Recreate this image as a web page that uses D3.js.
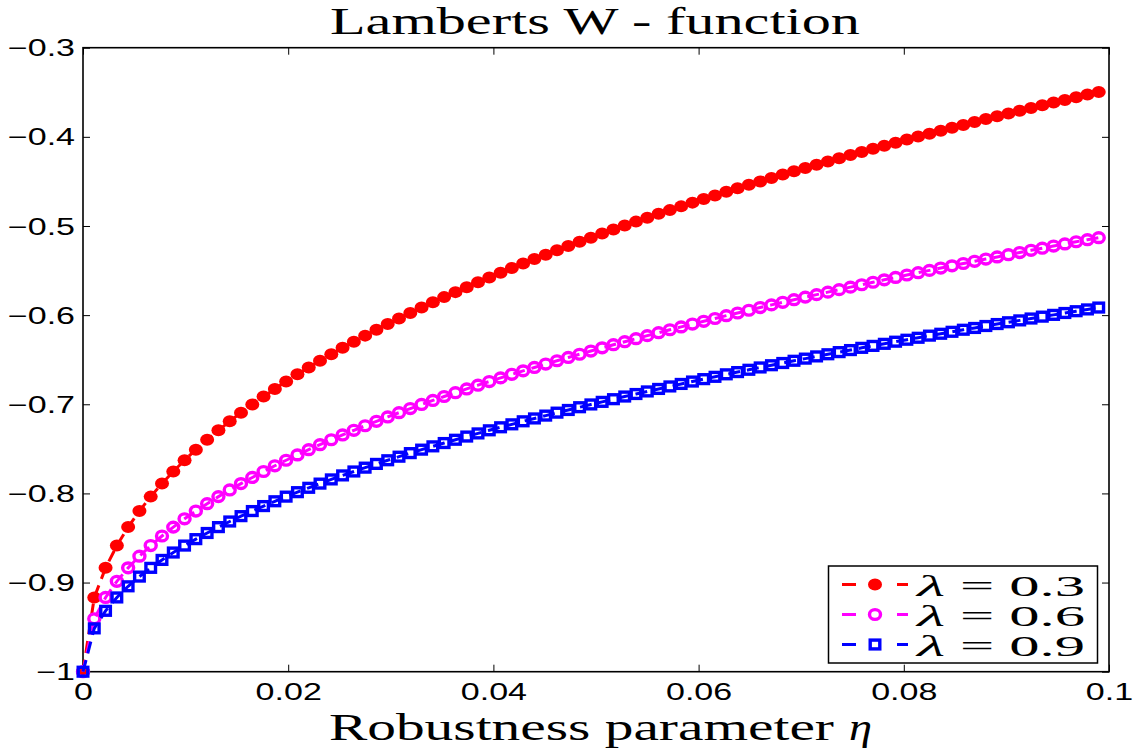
<!DOCTYPE html>
<html><head><meta charset="utf-8">
<script src="https://cdn.jsdelivr.net/npm/d3@7"></script>
<style>html,body{margin:0;padding:0;background:#fff;} svg{display:block;}</style>
</head><body>
<svg id="chart" width="1143" height="749"></svg>
<script>
// ---- data ----
const eta = [0,0.0011,0.0022,0.0033,0.0044,0.0055,0.0066,0.0077,0.0088,0.0099,0.011,0.0121,0.0132,0.0143,0.0154,0.0165,0.0176,0.0187,0.0198,0.0209,0.022,0.0231,0.0242,0.0253,0.0264,0.0275,0.0286,0.0297,0.0308,0.0319,0.033,0.0341,0.0352,0.0363,0.0374,0.0385,0.0396,0.0407,0.0418,0.0429,0.044,0.0451,0.0462,0.0473,0.0484,0.0495,0.0506,0.0517,0.0528,0.0539,0.055,0.0561,0.0572,0.0583,0.0594,0.0605,0.0616,0.0627,0.0638,0.0649,0.066,0.0671,0.0682,0.0693,0.0704,0.0715,0.0726,0.0737,0.0748,0.0759,0.077,0.0781,0.0792,0.0803,0.0814,0.0825,0.0836,0.0847,0.0858,0.0869,0.088,0.0891,0.0902,0.0913,0.0924,0.0935,0.0946,0.0957,0.0968,0.0979,0.099];
const lambda03 = [-1,-0.9167,-0.8835,-0.8585,-0.8378,-0.8198,-0.8036,-0.7890,-0.7754,-0.7628,-0.7509,-0.7398,-0.7292,-0.7191,-0.7094,-0.7002,-0.6913,-0.6828,-0.6745,-0.6664,-0.6587,-0.6512,-0.6439,-0.6367,-0.6298,-0.6230,-0.6164,-0.6100,-0.6038,-0.5976,-0.5915,-0.5856,-0.5798,-0.5742,-0.5686,-0.5631,-0.5577,-0.5524,-0.5472,-0.5421,-0.5371,-0.5322,-0.5273,-0.5225,-0.5177,-0.5131,-0.5085,-0.5040,-0.4995,-0.4951,-0.4908,-0.4864,-0.4822,-0.4780,-0.4738,-0.4697,-0.4657,-0.4617,-0.4578,-0.4538,-0.4500,-0.4461,-0.4423,-0.4386,-0.4349,-0.4312,-0.4276,-0.4241,-0.4205,-0.4169,-0.4134,-0.4099,-0.4065,-0.4031,-0.3997,-0.3964,-0.3932,-0.3899,-0.3866,-0.3834,-0.3801,-0.3770,-0.3738,-0.3707,-0.3676,-0.3646,-0.3615,-0.3586,-0.3555,-0.3525,-0.3496];
const lambda06 = [-1,-0.9406,-0.9167,-0.8986,-0.8835,-0.8704,-0.8585,-0.8478,-0.8378,-0.8285,-0.8198,-0.8115,-0.8036,-0.7961,-0.7890,-0.7821,-0.7754,-0.7690,-0.7628,-0.7568,-0.7509,-0.7453,-0.7398,-0.7344,-0.7292,-0.7241,-0.7191,-0.7142,-0.7094,-0.7048,-0.7002,-0.6957,-0.6913,-0.6870,-0.6828,-0.6786,-0.6745,-0.6704,-0.6664,-0.6625,-0.6587,-0.6549,-0.6512,-0.6475,-0.6439,-0.6403,-0.6367,-0.6332,-0.6298,-0.6264,-0.6230,-0.6197,-0.6164,-0.6132,-0.6100,-0.6069,-0.6038,-0.6006,-0.5976,-0.5945,-0.5915,-0.5885,-0.5856,-0.5827,-0.5798,-0.5770,-0.5742,-0.5714,-0.5686,-0.5659,-0.5631,-0.5604,-0.5577,-0.5550,-0.5524,-0.5498,-0.5472,-0.5447,-0.5421,-0.5396,-0.5371,-0.5347,-0.5322,-0.5298,-0.5273,-0.5249,-0.5225,-0.5201,-0.5177,-0.5154,-0.5131];
const lambda09 = [-1,-0.9514,-0.9317,-0.9167,-0.9042,-0.8933,-0.8835,-0.8746,-0.8663,-0.8585,-0.8513,-0.8444,-0.8378,-0.8315,-0.8255,-0.8198,-0.8142,-0.8088,-0.8036,-0.7986,-0.7937,-0.7890,-0.7843,-0.7798,-0.7754,-0.7711,-0.7669,-0.7628,-0.7588,-0.7548,-0.7509,-0.7472,-0.7435,-0.7398,-0.7362,-0.7327,-0.7292,-0.7258,-0.7225,-0.7191,-0.7159,-0.7127,-0.7094,-0.7064,-0.7033,-0.7002,-0.6973,-0.6943,-0.6913,-0.6885,-0.6856,-0.6828,-0.6800,-0.6772,-0.6745,-0.6718,-0.6692,-0.6664,-0.6639,-0.6613,-0.6587,-0.6562,-0.6537,-0.6512,-0.6488,-0.6463,-0.6439,-0.6415,-0.6392,-0.6367,-0.6345,-0.6322,-0.6298,-0.6276,-0.6254,-0.6230,-0.6209,-0.6187,-0.6164,-0.6144,-0.6122,-0.6100,-0.6080,-0.6059,-0.6038,-0.6017,-0.5997,-0.5976,-0.5956,-0.5936,-0.5915];
const lambdaSymbol = "\u03BB";
const lambdaLabels = ["= 0.3","= 0.6","= 0.9"];
const xTicks = [0,0.02,0.04,0.06,0.08,0.1];
const xTickLabels = ["0","0.02","0.04","0.06","0.08","0.1"];
const yTicks = [-1,-0.9,-0.8,-0.7,-0.6,-0.5,-0.4,-0.3];
const yTickLabels = ["\u22121","\u22120.9","\u22120.8","\u22120.7","\u22120.6","\u22120.5","\u22120.4","\u22120.3"];
const titleText = "Lamberts W - function";
const xLabelText = "Robustness parameter";
const xLabelSymbol = "\u03B7";

// ---- layout ----
const L = 83, R = 1109, T = 47.7, B = 671.7;
const SX = 1.48; // horizontal stretch of the reference's text
const sansFont = "'Liberation Sans', Arial, Helvetica, sans-serif";
const serifFont = "'Liberation Serif', 'Times New Roman', serif";

const svg = d3.select("#chart");
svg.append("rect").attr("width",1143).attr("height",749).attr("fill","#fff");

const x = d3.scaleLinear().domain([0,0.1]).range([L,R]);
const y = d3.scaleLinear().domain([-1,-0.3]).range([B,T]);

function styleTicks(g){
  g.select(".domain").remove();
  g.selectAll(".tick line").attr("stroke","#000").attr("stroke-width",1);
}
const gB = svg.append("g").attr("transform",`translate(0,${B})`)
  .call(d3.axisBottom(x).tickValues(xTicks).tickFormat((d,i)=>xTickLabels[i]).tickSizeInner(-7).tickSizeOuter(0));
styleTicks(gB);
gB.selectAll(".tick text").attr("y",11.5).attr("dy","0.71em").attr("fill","#000")
  .style("font-family",sansFont).style("font-size","23px").attr("transform",`scale(${SX},1)`);
const gT = svg.append("g").attr("transform",`translate(0,${T})`)
  .call(d3.axisTop(x).tickValues(xTicks).tickFormat("").tickSizeInner(-7).tickSizeOuter(0));
styleTicks(gT);
const gL = svg.append("g").attr("transform",`translate(${L},0)`)
  .call(d3.axisLeft(y).tickValues(yTicks).tickFormat((d,i)=>yTickLabels[i]).tickSizeInner(-7).tickSizeOuter(0));
styleTicks(gL);
gL.selectAll(".tick text").attr("x",-8/SX).attr("dy","0.35em").attr("fill","#000")
  .style("font-family",sansFont).style("font-size","23px").attr("transform",`scale(${SX},1)`);
const gR = svg.append("g").attr("transform",`translate(${R},0)`)
  .call(d3.axisRight(y).tickValues(yTicks).tickFormat("").tickSizeInner(-7).tickSizeOuter(0));
styleTicks(gR);

svg.append("rect").attr("x",L).attr("y",T).attr("width",R-L).attr("height",B-T)
  .attr("fill","none").attr("stroke","#000").attr("stroke-width",1.6);

// ---- series ----
const series = [
  {values: lambda03, color: "#ff0000", marker: "dot", label: lambdaLabels[0]},
  {values: lambda06, color: "#ff00ff", marker: "circle", label: lambdaLabels[1]},
  {values: lambda09, color: "#0000ff", marker: "square", label: lambdaLabels[2]}
];
const line = d3.line().x((d,i)=>x(eta[i])).y(d=>y(d));

function drawMarker(g, cx, cy, s){
  if (s.marker === "dot") {
    g.append("ellipse").attr("cx",cx).attr("cy",cy).attr("rx",7).attr("ry",6).attr("fill",s.color);
  } else if (s.marker === "circle") {
    g.append("ellipse").attr("cx",cx).attr("cy",cy).attr("rx",5.5).attr("ry",4.9)
      .attr("fill","none").attr("stroke",s.color).attr("stroke-width",3.4);
  } else {
    g.append("rect").attr("x",cx-4.8).attr("y",cy-4.4).attr("width",9.6).attr("height",8.8)
      .attr("fill","none").attr("stroke",s.color).attr("stroke-width",3.4);
  }
}

series.forEach(s=>{
  const g = svg.append("g");
  g.append("path").datum(s.values).attr("d",line).attr("fill","none")
    .attr("stroke",s.color).attr("stroke-width",3).attr("stroke-dasharray","12,7");
  s.values.forEach((v,i)=>drawMarker(g, x(eta[i]), y(v), s));
});

// ---- legend ----
const lg = svg.append("g");
lg.append("rect").attr("x",828.5).attr("y",566).attr("width",269).attr("height",97)
  .attr("fill","#fff").attr("stroke","#000").attr("stroke-width",1.5);
const rowBase = [596, 626, 656];
series.forEach((s,k)=>{
  const my = rowBase[k]-11.5;
  lg.append("line").attr("x1",842).attr("x2",908).attr("y1",my).attr("y2",my)
    .attr("stroke",s.color).attr("stroke-width",3).attr("stroke-dasharray","14,41,11");
  drawMarker(lg, 875, my, s);
  lg.append("text").attr("x",917).attr("y",rowBase[k])
    .attr("textLength",28).attr("lengthAdjust","spacingAndGlyphs")
    .style("font-family",serifFont).style("font-style","italic").style("font-size","30px").attr("fill","#000")
    .text(lambdaSymbol);
  lg.append("text").attr("x",960).attr("y",rowBase[k])
    .attr("textLength",125).attr("lengthAdjust","spacingAndGlyphs")
    .style("font-family",serifFont).style("font-size","30px").attr("fill","#000")
    .text(s.label);
});

// ---- title and axis label ----
svg.append("text").attr("x",595).attr("y",34).attr("text-anchor","middle")
  .attr("textLength",530).attr("lengthAdjust","spacingAndGlyphs")
  .style("font-family",serifFont).style("font-size","38px").attr("fill","#000").text(titleText);
svg.append("text").attr("x",329).attr("y",740)
  .attr("textLength",505).attr("lengthAdjust","spacingAndGlyphs")
  .style("font-family",serifFont).style("font-size","37px").attr("fill","#000").text(xLabelText);
svg.append("text").attr("x",849).attr("y",740)
  .attr("textLength",23).attr("lengthAdjust","spacingAndGlyphs")
  .style("font-family",serifFont).style("font-style","italic").style("font-size","37px").attr("fill","#000").text(xLabelSymbol);
</script>
</body></html>
